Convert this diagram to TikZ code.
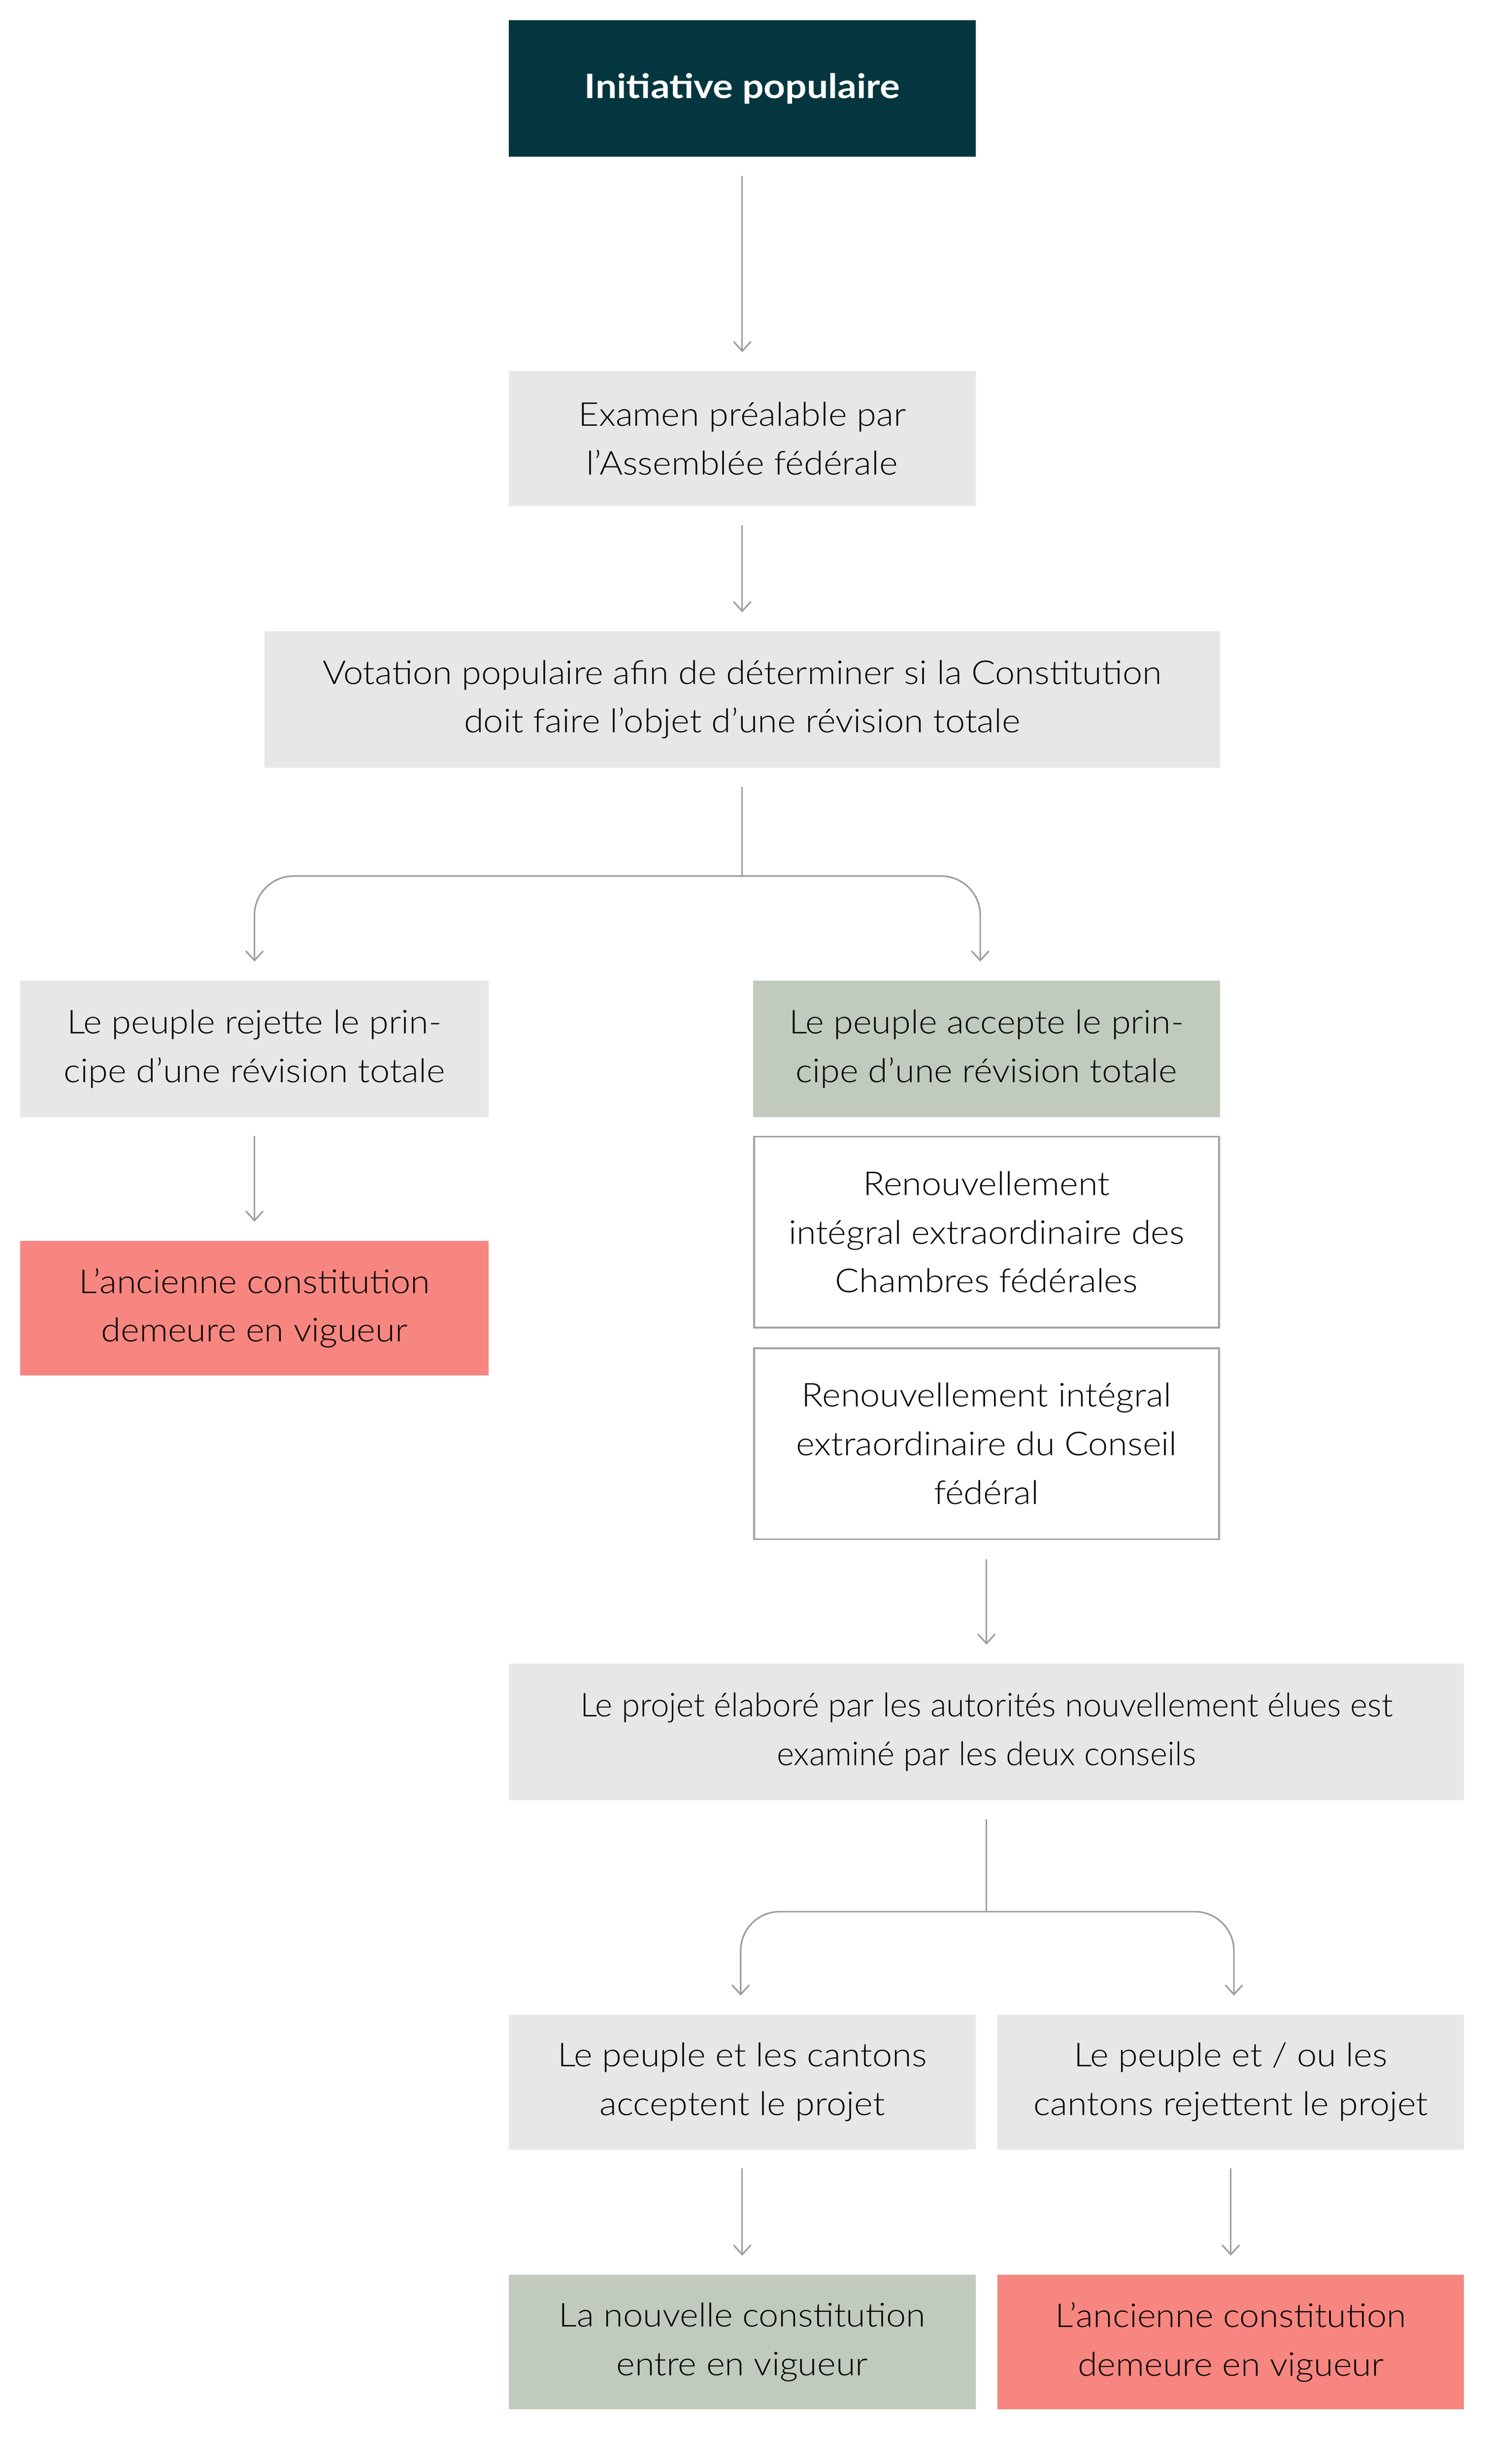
\documentclass[tikz,border=0pt]{standalone}
\usepackage{fontspec}
\setmainfont{Lato Light}[FakeStretch=1.08]
\newfontfamily\projfont{Lato Light}[FakeStretch=1.005]
\newfontfamily\titlefont{Lato}[FakeStretch=1.12]
\usetikzlibrary{arrows.meta,calc}
\definecolor{cTeal}{HTML}{04363F}
\definecolor{cGrey}{HTML}{E7E7E7}
\definecolor{cGreen}{HTML}{C0CABD}
\definecolor{cRed}{HTML}{F6867F}
\definecolor{cLine}{HTML}{9D9D9D}
\definecolor{cBorder}{HTML}{A3A3A3}
\begin{document}
\begin{tikzpicture}[x=1pt,y=-1pt,
  base/.style={inner sep=0pt, align=center, minimum width=298pt, minimum height=87pt,
    font=\fontsize{21}{31}\selectfont},
  greybox/.style={base, fill=cGrey},
  greenbox/.style={base, fill=cGreen},
  redbox/.style={base, fill=cRed},
  outbox/.style={base, fill=white, draw=cBorder, line width=1.2pt, minimum width=297pt, minimum height=122pt},
  titlebox/.style={base, fill=cTeal, text=white, font=\titlefont\bfseries\fontsize{21.5}{31}\selectfont},
  plain/.style={draw=cLine, line width=1pt},
  conn/.style={plain, -{Straight Barb[length=6pt,width=11pt,line width=1pt]}},
  branch/.style={conn, rounded corners=25pt}]
\useasboundingbox[fill=white] (0,0) rectangle (950.6,1572.8);

\node[titlebox] (init) at (474,56.5) {Initiative populaire};
\node[greybox, minimum height=86pt] (exam) at (474,280) {Examen préalable par\\l’Assemblée fédérale};
\node[greybox, minimum width=610pt] (vot) at (474,446.5) {Votation populaire afin de déterminer si la Constitution\\doit faire l’objet d’une révision totale};
\node[greybox, minimum width=299pt] (rej) at (162.5,669.5) {Le peuple rejette le prin-\\cipe d’une révision totale};
\node[greenbox] (acc) at (630,669.5) {Le peuple accepte le prin-\\cipe d’une révision totale};
\node[redbox, minimum width=299pt, minimum height=86pt] (anc1) at (162.5,835) {L’ancienne constitution\\demeure en vigueur};
\node[outbox] (ren1) at (630,786.5) {Renouvellement\\intégral extraordinaire des\\Chambres fédérales};
\node[outbox] (ren2) at (630,921.5) {Renouvellement intégral\\extraordinaire du Conseil\\fédéral};
\node[greybox, minimum width=610pt, font=\projfont\fontsize{21}{31}\selectfont] (proj) at (630,1105.5) {Le projet élaboré par les autorités nouvellement élues est\\examiné par les deux conseils};
\node[greybox, minimum height=86pt] (pc) at (474,1329) {Le peuple et les cantons\\acceptent le projet};
\node[greybox, minimum height=86pt] (prej) at (786,1329) {Le peuple et / ou les\\cantons rejettent le projet};
\node[greenbox, minimum height=86pt] (nouv) at (474,1495) {La nouvelle constitution\\entre en vigueur};
\node[redbox, minimum height=86pt] (anc2) at (786,1495) {L’ancienne constitution\\demeure en vigueur};

\draw[conn] ([yshift=-12pt]init.south) -- ([yshift=12pt]exam.north);
\draw[conn] ([yshift=-12pt]exam.south) -- ([yshift=12pt]vot.north);

\coordinate (b1) at ($(vot.south)+(0,69)$);
\draw[plain] ([yshift=-12pt]vot.south) -- (b1);
\draw[branch] (b1) -| ([yshift=12pt]rej.north);
\draw[branch] (b1) -| ([yshift=12pt,xshift=-4pt]acc.north);

\draw[conn] ([yshift=-12pt]rej.south) -- ([yshift=12pt]anc1.north);
\draw[conn] ([yshift=-12pt]ren2.south) -- ([yshift=12pt]proj.north);

\coordinate (b2) at ($(proj.south)+(0,71)$);
\draw[plain] ([yshift=-12pt]proj.south) -- (b2);
\draw[branch] (b2) -| ([yshift=12pt,xshift=-1pt]pc.north);
\draw[branch] (b2) -| ([yshift=12pt,xshift=2pt]prej.north);

\draw[conn] ([yshift=-12pt]pc.south) -- ([yshift=12pt]nouv.north);
\draw[conn] ([yshift=-12pt]prej.south) -- ([yshift=12pt]anc2.north);
\end{tikzpicture}
\end{document}
